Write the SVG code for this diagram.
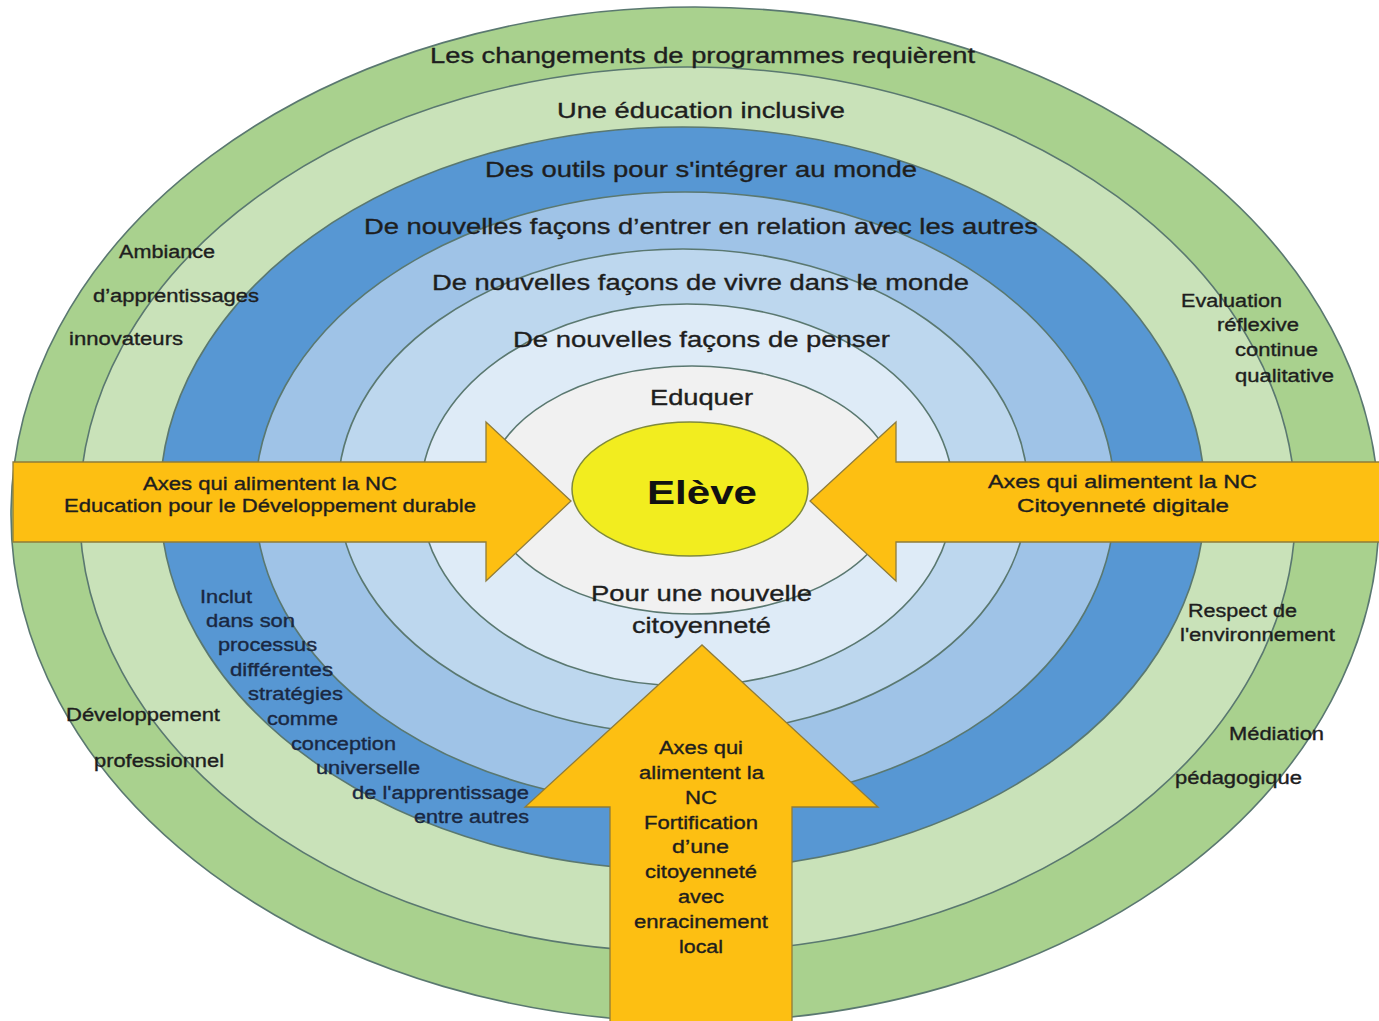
<svg xmlns="http://www.w3.org/2000/svg" width="1379" height="1021" viewBox="0 0 1379 1021">
<defs>
<style>
.ring{stroke:#5a7870;stroke-width:1.6}
.t{font-family:"Liberation Sans",Arial,sans-serif;fill:#1e1e1e;stroke:#1e1e1e;stroke-width:0.35}
.band{font-size:22.5px}
.sm{font-size:18px}
.nav{fill:#1a2842;stroke:#1a2842}
.arrow{fill:#fdbf12;stroke:#8f7c3a;stroke-width:1.3}
</style>
</defs>
<rect width="1379" height="1021" fill="#ffffff"/>
<g id="rings">
  <g id="ring-programmes"><ellipse class="ring" cx="695" cy="514.5" rx="684" ry="507.5" fill="#a9d18e"/></g>
  <g id="ring-inclusive"><ellipse class="ring" cx="687.5" cy="509.5" rx="608" ry="442.5" fill="#c9e2b9"/></g>
  <g id="ring-outils"><ellipse class="ring" cx="682.5" cy="498.5" rx="522.5" ry="371.5" fill="#5797d3"/></g>
  <g id="ring-relation"><ellipse class="ring" cx="685" cy="499" rx="430" ry="307" fill="#9fc3e7"/></g>
  <g id="ring-vivre"><ellipse class="ring" cx="683" cy="491.5" rx="345" ry="242.5" fill="#bdd7ee"/></g>
  <g id="ring-penser"><ellipse class="ring" cx="687" cy="495" rx="266.5" ry="191" fill="#deebf7"/></g>
  <g id="ring-eduquer"><ellipse class="ring" cx="692" cy="490" rx="205" ry="124" fill="#f1f1f1"/></g>
</g>
<g id="node-eleve">
  <ellipse cx="690" cy="489" rx="118" ry="67" fill="#f2ed1f" stroke="#7f8a3c" stroke-width="1.5"/>
  <text x="647" y="504" font-family="Liberation Sans, Arial, sans-serif" font-size="34" font-weight="bold" fill="#111" textLength="110" lengthAdjust="spacingAndGlyphs">Elève</text>
</g>
<g id="connectors">
  <g id="arrow-left">
    <polygon class="arrow" points="13,462 486,462 486,422 571,501 486,581 486,542 13,542"/>
    <text class="t sm" x="143" y="490" textLength="254" lengthAdjust="spacingAndGlyphs">Axes qui alimentent la NC</text>
    <text class="t sm" x="64" y="512" textLength="412" lengthAdjust="spacingAndGlyphs">Education pour le Développement durable</text>
  </g>
  <g id="arrow-right">
    <polygon class="arrow" points="1386,462 896,462 896,422 810,501 896,581 896,542 1386,542"/>
    <text class="t sm" x="988" y="488" textLength="269" lengthAdjust="spacingAndGlyphs">Axes qui alimentent la NC</text>
    <text class="t sm" x="1017" y="512" textLength="212" lengthAdjust="spacingAndGlyphs">Citoyenneté digitale</text>
  </g>
  <g id="arrow-up">
    <polygon class="arrow" points="610,1026 610,807 525,807 702,645 878,807 792,807 792,1026"/>
    <text class="t sm" x="659" y="754" textLength="84" lengthAdjust="spacingAndGlyphs">Axes qui</text>
    <text class="t sm" x="639" y="779" textLength="125" lengthAdjust="spacingAndGlyphs">alimentent la</text>
    <text class="t sm" x="685" y="804" textLength="32" lengthAdjust="spacingAndGlyphs">NC</text>
    <text class="t sm" x="644" y="829" textLength="114" lengthAdjust="spacingAndGlyphs">Fortification</text>
    <text class="t sm" x="672" y="853" textLength="57" lengthAdjust="spacingAndGlyphs">d’une</text>
    <text class="t sm" x="645" y="878" textLength="112" lengthAdjust="spacingAndGlyphs">citoyenneté</text>
    <text class="t sm" x="678" y="903" textLength="46" lengthAdjust="spacingAndGlyphs">avec</text>
    <text class="t sm" x="634" y="928" textLength="134" lengthAdjust="spacingAndGlyphs">enracinement</text>
    <text class="t sm" x="679" y="953" textLength="44" lengthAdjust="spacingAndGlyphs">local</text>
  </g>
</g>
<g id="band-labels">
  <text class="t band" x="430" y="63" textLength="545" lengthAdjust="spacingAndGlyphs">Les changements de programmes requièrent</text>
  <text class="t band" x="557" y="118" textLength="288" lengthAdjust="spacingAndGlyphs">Une éducation inclusive</text>
  <text class="t band" x="485" y="177" textLength="432" lengthAdjust="spacingAndGlyphs">Des outils pour s'intégrer au monde</text>
  <text class="t band" x="364" y="234" textLength="674" lengthAdjust="spacingAndGlyphs">De nouvelles façons d’entrer en relation avec les autres</text>
  <text class="t band" x="432" y="290" textLength="537" lengthAdjust="spacingAndGlyphs">De nouvelles façons de vivre dans le monde</text>
  <text class="t band" x="513" y="347" textLength="377" lengthAdjust="spacingAndGlyphs">De nouvelles façons de penser</text>
  <text class="t band" x="650" y="405" textLength="103" lengthAdjust="spacingAndGlyphs">Eduquer</text>
  <text class="t band" x="591" y="601" textLength="221" lengthAdjust="spacingAndGlyphs">Pour une nouvelle</text>
  <text class="t band" x="632" y="633" textLength="139" lengthAdjust="spacingAndGlyphs">citoyenneté</text>
</g>
<g id="label-ambiance">
  <text class="t sm" x="119" y="258" textLength="96" lengthAdjust="spacingAndGlyphs">Ambiance</text>
  <text class="t sm" x="93" y="302" textLength="166" lengthAdjust="spacingAndGlyphs">d’apprentissages</text>
  <text class="t sm" x="69" y="345" textLength="114" lengthAdjust="spacingAndGlyphs">innovateurs</text>
</g>
<g id="label-evaluation">
  <text class="t sm" x="1181" y="307" textLength="101" lengthAdjust="spacingAndGlyphs">Evaluation</text>
  <text class="t sm" x="1217" y="331" textLength="82" lengthAdjust="spacingAndGlyphs">réflexive</text>
  <text class="t sm" x="1235" y="356" textLength="83" lengthAdjust="spacingAndGlyphs">continue</text>
  <text class="t sm" x="1235" y="382" textLength="99" lengthAdjust="spacingAndGlyphs">qualitative</text>
</g>
<g id="label-respect">
  <text class="t sm" x="1188" y="617" textLength="109" lengthAdjust="spacingAndGlyphs">Respect de</text>
  <text class="t sm" x="1180" y="641" textLength="155" lengthAdjust="spacingAndGlyphs">l'environnement</text>
</g>
<g id="label-mediation">
  <text class="t sm" x="1229" y="740" textLength="95" lengthAdjust="spacingAndGlyphs">Médiation</text>
  <text class="t sm" x="1175" y="784" textLength="127" lengthAdjust="spacingAndGlyphs">pédagogique</text>
</g>
<g id="label-developpement">
  <text class="t sm" x="66" y="721" textLength="154" lengthAdjust="spacingAndGlyphs">Développement</text>
  <text class="t sm" x="94" y="767" textLength="130" lengthAdjust="spacingAndGlyphs">professionnel</text>
</g>
<g id="label-inclut">
  <text class="t sm nav" x="200" y="603" textLength="52" lengthAdjust="spacingAndGlyphs">Inclut</text>
  <text class="t sm nav" x="206" y="627" textLength="89" lengthAdjust="spacingAndGlyphs">dans son</text>
  <text class="t sm nav" x="218" y="651" textLength="99" lengthAdjust="spacingAndGlyphs">processus</text>
  <text class="t sm nav" x="230" y="676" textLength="103" lengthAdjust="spacingAndGlyphs">différentes</text>
  <text class="t sm nav" x="248" y="700" textLength="95" lengthAdjust="spacingAndGlyphs">stratégies</text>
  <text class="t sm nav" x="267" y="725" textLength="71" lengthAdjust="spacingAndGlyphs">comme</text>
  <text class="t sm nav" x="291" y="750" textLength="105" lengthAdjust="spacingAndGlyphs">conception</text>
  <text class="t sm nav" x="316" y="774" textLength="104" lengthAdjust="spacingAndGlyphs">universelle</text>
  <text class="t sm nav" x="352" y="799" textLength="177" lengthAdjust="spacingAndGlyphs">de l'apprentissage</text>
  <text class="t sm nav" x="414" y="823" textLength="115" lengthAdjust="spacingAndGlyphs">entre autres</text>
</g>
</svg>
